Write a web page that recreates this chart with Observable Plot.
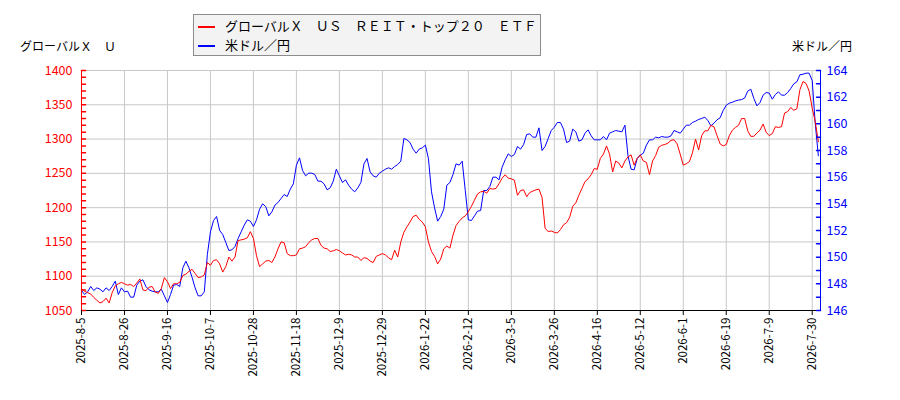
<!DOCTYPE html>
<html><head><meta charset="utf-8">
<script src="https://cdn.jsdelivr.net/npm/d3@7"></script>
<script src="https://cdn.jsdelivr.net/npm/@observablehq/plot@0.6"></script>
<style>
body{margin:0;background:#fff;}
#wrap{position:relative;width:900px;height:400px;font-family:"Noto Sans CJK JP",sans-serif;color:#000;}
#wrap svg{position:absolute;left:0;top:0;}
.legend{position:absolute;left:193px;top:14px;width:346px;height:40px;border:1px solid #8c8c8c;background:#f3f3f3;font-size:13px;}
.item{position:absolute;left:4px;height:18px;line-height:18px;white-space:nowrap;}
.item span.sw{display:inline-block;width:17px;height:2px;vertical-align:middle;margin-right:10px;}
.ytitle{position:absolute;top:37px;font-size:12px;line-height:18px;white-space:nowrap;}
</style></head>
<body><div id="wrap"></div>
<script>
const tickLabels = ["2025-8-5","2025-8-26","2025-9-16","2025-10-7","2025-10-28","2025-11-18","2025-12-9","2025-12-29","2026-1-22","2026-2-12","2026-3-5","2026-3-26","2026-4-16","2026-5-12","2026-6-1","2026-6-19","2026-7-9","2026-7-30"];
const tickStep = 14;
const reitName = "グローバルＸ　ＵＳ　ＲＥＩＴ・トップ２０　ＥＴＦ";
const fxName = "米ドル／円";
const leftTitle = "グローバルＸ　Ｕ";
const leftTicks = [1050,1100,1150,1200,1250,1300,1350,1400];
const rightTicks = [146,148,150,152,154,156,158,160,162,164];
const reitValues = [1082,1078,1076,1074,1069,1065,1061,1063,1068,1061,
1076,1086,1089,1091,1089,1087,1088,1085,1090,1096,
1080,1079,1084,1085,1077,1075,1082,1098,1092,1082,
1089,1089,1091,1101,1103,1107,1110,1104,1098,1099,
1102,1120,1116,1123,1124,1118,1106,1114,1128,1122,
1128,1152,1153,1154,1156,1165,1155,1130,1114,1118,
1122,1123,1120,1128,1140,1150,1149,1133,1130,
1130,1131,1140,1141,1143,1149,1153,1155,1155,1145,
1141,1140,1136,1137,1139,1137,1134,1131,1132,1131,
1128,1128,1123,1127,1126,1122,1120,1129,1131,1133,
1131,1127,1124,1138,1128,1150,1164,1172,1179,1187,
1189,1183,1179,1172,1150,1136,1129,1118,1125,1140,
1144,1141,1160,1174,1180,1185,1188,1194,1202,1211,
1220,1223,1224,1221,1228,1227,1228,1235,1243,1248,
1243,1242,1240,1218,1225,1226,1216,1222,1224,1226,
1227,1215,1170,1165,1166,1164,1163,1168,1175,1178,
1186,1202,1207,1218,1228,1238,1242,1248,1257,1256,
1272,1278,1290,1278,1252,1268,1265,1258,1268,1274,
1277,1262,1272,1277,1268,1266,1248,1268,1276,
1288,1291,1292,1294,1298,1299,1293,1278,1262,1264,
1267,1280,1300,1284,1305,1312,1312,1320,1318,1305,
1293,1290,1292,1305,1313,1317,1320,1330,1330,1312,
1304,1304,1309,1313,1322,1310,1305,1308,1318,1317,
1318,1338,1340,1346,1342,1344,1372,1384,1381,1370,
1345,1325,1296];
const fxValues = [147.5,147.2,147.4,147.8,147.5,147.7,147.6,147.4,147.7,147.5,
147.8,148.2,147.2,147.7,147.4,147.45,147.0,147.0,147.9,148.2,
148.3,147.8,147.55,147.45,147.4,147.4,147.6,147.1,146.6,147.2,
147.9,147.95,147.8,149.2,149.7,149.2,148.5,147.7,147.1,147.1,
147.4,150.2,151.9,152.75,153.05,152.0,151.7,151.1,150.5,150.55,
150.8,151.4,151.9,152.4,152.8,152.7,152.3,152.8,153.6,154.0,
153.8,153.1,153.4,153.9,154.1,154.4,154.7,154.55,155.1,
155.5,156.9,157.45,156.5,156.1,156.3,156.3,156.2,155.7,155.7,
155.5,155.05,155.2,155.7,156.6,156.1,155.6,155.8,155.4,155.1,
154.9,155.2,155.6,157.0,157.4,156.4,156.1,156.0,156.3,156.45,
156.6,156.7,156.6,156.8,156.95,157.2,158.9,158.8,158.6,158.1,
157.8,158.1,158.2,158.4,157.4,154.9,153.7,152.7,153.05,153.6,
155.4,155.6,156.2,157.0,156.9,157.2,155.0,152.8,152.75,153.1,
153.45,153.5,155.0,155.0,155.3,156.0,156.0,155.8,156.75,157.3,
157.75,157.55,157.7,158.3,158.1,158.45,159.2,159.25,159.0,159.0,
159.7,158.0,158.3,158.9,159.5,159.75,160.1,160.1,159.6,158.6,
158.7,159.6,159.4,158.7,158.8,159.3,159.55,159.1,158.8,158.8,
158.8,159.05,158.8,159.3,159.4,159.5,159.45,159.4,159.9,157.6,
156.6,156.55,157.4,157.65,157.8,158.4,158.8,158.8,159.0,
158.95,159.05,159.0,159.0,159.1,159.5,159.4,159.3,159.6,159.9,
159.9,160.1,160.2,160.33,160.4,160.5,160.25,159.85,160.05,160.3,
160.45,161.0,161.4,161.55,161.62,161.72,161.78,161.82,161.93,162.45,
162.6,161.9,161.35,161.6,162.15,162.35,162.3,161.85,162.2,162.4,
162.15,162.15,162.35,162.65,163.0,163.15,163.68,163.72,163.8,163.8,
163.25,160.0,157.6];

const L0 = leftTicks[0], L1 = leftTicks[leftTicks.length-1];
const R0 = rightTicks[0], R1 = rightTicks[rightTicks.length-1];
const toLeft = v => L0 + (v - R0) * (L1 - L0) / (R1 - R0);
const fromLeft = v => R0 + (v - L0) * (R1 - R0) / (L1 - L0);
const xMax = reitValues.length - 0.3;
const xTicks = tickLabels.map((_, k) => k * tickStep);
const reit = reitValues.map((v, i) => ({i, v}));
const fx = fxValues.map((v, i) => ({i, v: toLeft(v)}));
const leftMinor = d3.range(L0, L1 + 1, 10);
const rightMinor = d3.range(R0, R1 + 0.5, 1).map(toLeft);
const tickShape = {draw(ctx, l) { ctx.moveTo(0, 0); ctx.lineTo(0, -l); }};

const chart = Plot.plot({
  width: 900, height: 400,
  marginTop: 70, marginBottom: 90, marginLeft: 81, marginRight: 80,
  x: {domain: [0, xMax], label: null},
  y: {domain: [L0, L1], label: null},
  style: {background: "transparent", fontFamily: "'Noto Sans CJK JP', sans-serif", fontSize: "12px"},
  marks: [
    Plot.gridX(xTicks, {stroke: "#c8c8c8", strokeOpacity: 1}),
    Plot.gridY(leftTicks, {stroke: "#c8c8c8", strokeOpacity: 1}),
    Plot.line(fx, {x: "i", y: "v", stroke: "#0000ff", strokeWidth: 1}),
    Plot.line(reit, {x: "i", y: "v", stroke: "#ff0000", strokeWidth: 1}),
    Plot.ruleY([L0], {stroke: "#000"}),
    Plot.ruleX([0], {stroke: "#ff0000"}),
    Plot.ruleX([xMax], {stroke: "#0000ff"}),
    Plot.vector(leftMinor, {y: d => d, frameAnchor: "left", length: 4, rotate: 90, anchor: "start", shape: tickShape, stroke: "#ff0000"}),
    Plot.vector(rightMinor, {y: d => d, frameAnchor: "right", length: 4, rotate: -90, anchor: "start", shape: tickShape, stroke: "#0000ff"}),
    Plot.axisX(xTicks, {anchor: "bottom", label: null, tickRotate: -90, tickSize: 5, tickPadding: 2, fontSize: 11.5,
      tickFormat: d => tickLabels[Math.round(d / tickStep)], stroke: "#000", fill: "#000"}),
    Plot.axisY(leftTicks, {anchor: "left", label: null, tickSize: 0, tickPadding: 9, fontSize: 12.5, fill: "#ff0000", tickFormat: d => String(d)}),
    Plot.axisY(rightTicks.map(toLeft), {anchor: "right", label: null, tickSize: 0, tickPadding: 6, fontSize: 12.5, fill: "#0000ff", tickFormat: d => String(Math.round(fromLeft(d)))})
  ]
});

const wrap = document.getElementById("wrap");
wrap.appendChild(chart);
const legend = document.createElement("div");
legend.className = "legend";
legend.innerHTML = `<div class="item" style="top:2px"><span class="sw" style="background:#ff0000"></span>${reitName}</div>
<div class="item" style="top:21px"><span class="sw" style="background:#0000ff"></span>${fxName}</div>`;
wrap.appendChild(legend);
const lt = document.createElement("div");
lt.className = "ytitle"; lt.style.left = "20px"; lt.textContent = leftTitle;
wrap.appendChild(lt);
const rt = document.createElement("div");
rt.className = "ytitle"; rt.style.left = "792px"; rt.textContent = fxName;
wrap.appendChild(rt);
</script>
</body></html>
